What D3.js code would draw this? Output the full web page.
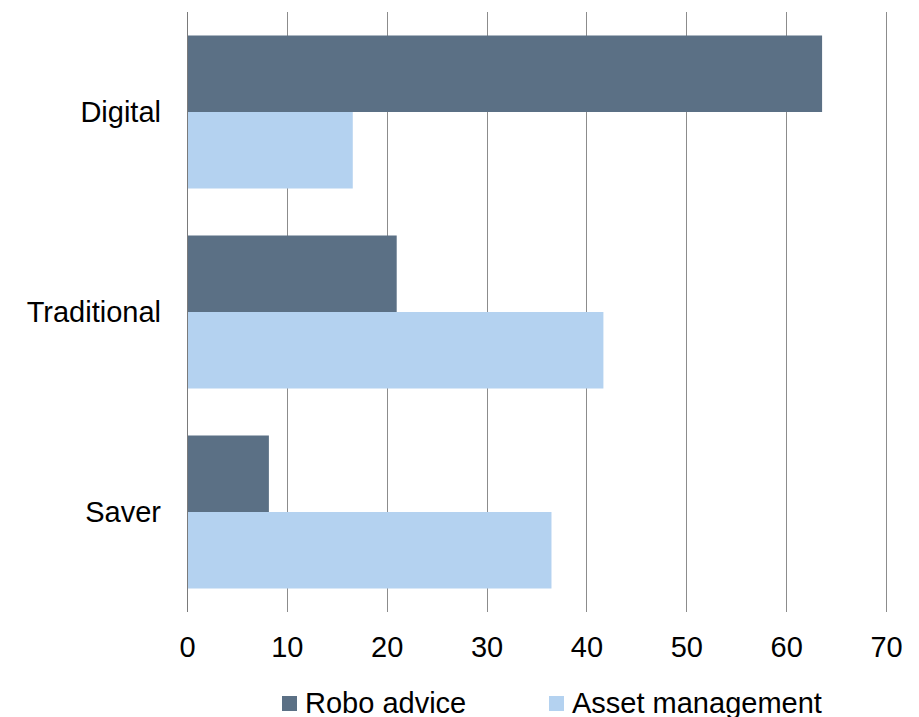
<!DOCTYPE html>
<html>
<head>
<meta charset="utf-8">
<script src="https://cdn.jsdelivr.net/npm/d3@7"></script>
<style>
  html, body { margin: 0; padding: 0; background: #fff; }
  svg { display: block; font-family: "Liberation Sans", Arial, sans-serif; }
</style>
</head>
<body>
<svg id="chart" width="919" height="717"></svg>
<script>
// Investor segments and the share (%) for each offering
const categories = ["Digital", "Traditional", "Saver"];
const seriesNames = ["Robo advice", "Asset management"];
const roboAdvice = [63.6, 21.0, 8.2];
const assetManagement = [16.6, 41.7, 36.5];
const xTicks = [0, 10, 20, 30, 40, 50, 60, 70];
const colors = ["#5b7085", "#b4d2f0"];

(function () {
  const svg = d3.select("#chart");
  const plotLeft = 187, plotRight = 886, plotTop = 12, plotBottom = 612;
  const fontSize = 29;

  const x = d3.scaleLinear().domain([0, 70]).range([plotLeft, plotRight]);
  const y = d3.scaleBand().domain(categories).range([plotTop, plotBottom])
    .paddingInner(0.235).paddingOuter(0.1175);
  const ySub = d3.scaleBand().domain(seriesNames).range([0, y.bandwidth()]);

  // vertical gridlines
  svg.append("g").selectAll("line").data(xTicks.slice(1)).join("line")
    .attr("x1", d => Math.round(x(d)) + 0.5).attr("x2", d => Math.round(x(d)) + 0.5)
    .attr("y1", plotTop).attr("y2", plotBottom)
    .attr("stroke", "#8c8c8c").attr("stroke-width", 1);

  const rows = categories.map((c, i) => ({ c, vals: [roboAdvice[i], assetManagement[i]] }));

  // bars
  const g = svg.append("g");
  rows.forEach(r => {
    r.vals.forEach((v, j) => {
      g.append("rect")
        .attr("x", x(0))
        .attr("y", y(r.c) + ySub(seriesNames[j]))
        .attr("width", x(v) - x(0))
        .attr("height", ySub.bandwidth())
        .attr("fill", colors[j]);
    });
  });

  // value axis line at zero
  svg.append("line")
    .attr("x1", Math.round(x(0)) + 0.5).attr("x2", Math.round(x(0)) + 0.5)
    .attr("y1", plotTop).attr("y2", plotBottom)
    .attr("stroke", "#7a7a7a").attr("stroke-width", 1);

  // x tick labels
  const xAxis = d3.axisBottom(x).tickValues(xTicks).tickSize(0).tickPadding(0);
  const xg = svg.append("g").attr("transform", `translate(0, ${plotBottom})`).call(xAxis);
  xg.select(".domain").remove();
  xg.selectAll("text")
    .attr("y", 45).attr("dy", null)
    .attr("font-size", fontSize).attr("fill", "#000")
    .attr("font-family", "Liberation Sans, Arial, sans-serif");

  // category labels
  const yAxis = d3.axisLeft(y).tickSize(0).tickPadding(0);
  const yg = svg.append("g").attr("transform", "translate(161, 0)").call(yAxis);
  yg.select(".domain").remove();
  yg.selectAll("text")
    .attr("x", 0).attr("dy", "0.36em")
    .attr("font-size", fontSize).attr("fill", "#000")
    .attr("font-family", "Liberation Sans, Arial, sans-serif");

  // legend
  const legendX = [282, 549];
  const legend = svg.append("g");
  seriesNames.forEach((name, i) => {
    legend.append("rect")
      .attr("x", legendX[i]).attr("y", 696)
      .attr("width", 15).attr("height", 15)
      .attr("fill", colors[i]);
    legend.append("text")
      .attr("x", legendX[i] + 23).attr("y", 713)
      .attr("font-size", fontSize).attr("fill", "#000")
      .text(name);
  });
})();
</script>
</body>
</html>
